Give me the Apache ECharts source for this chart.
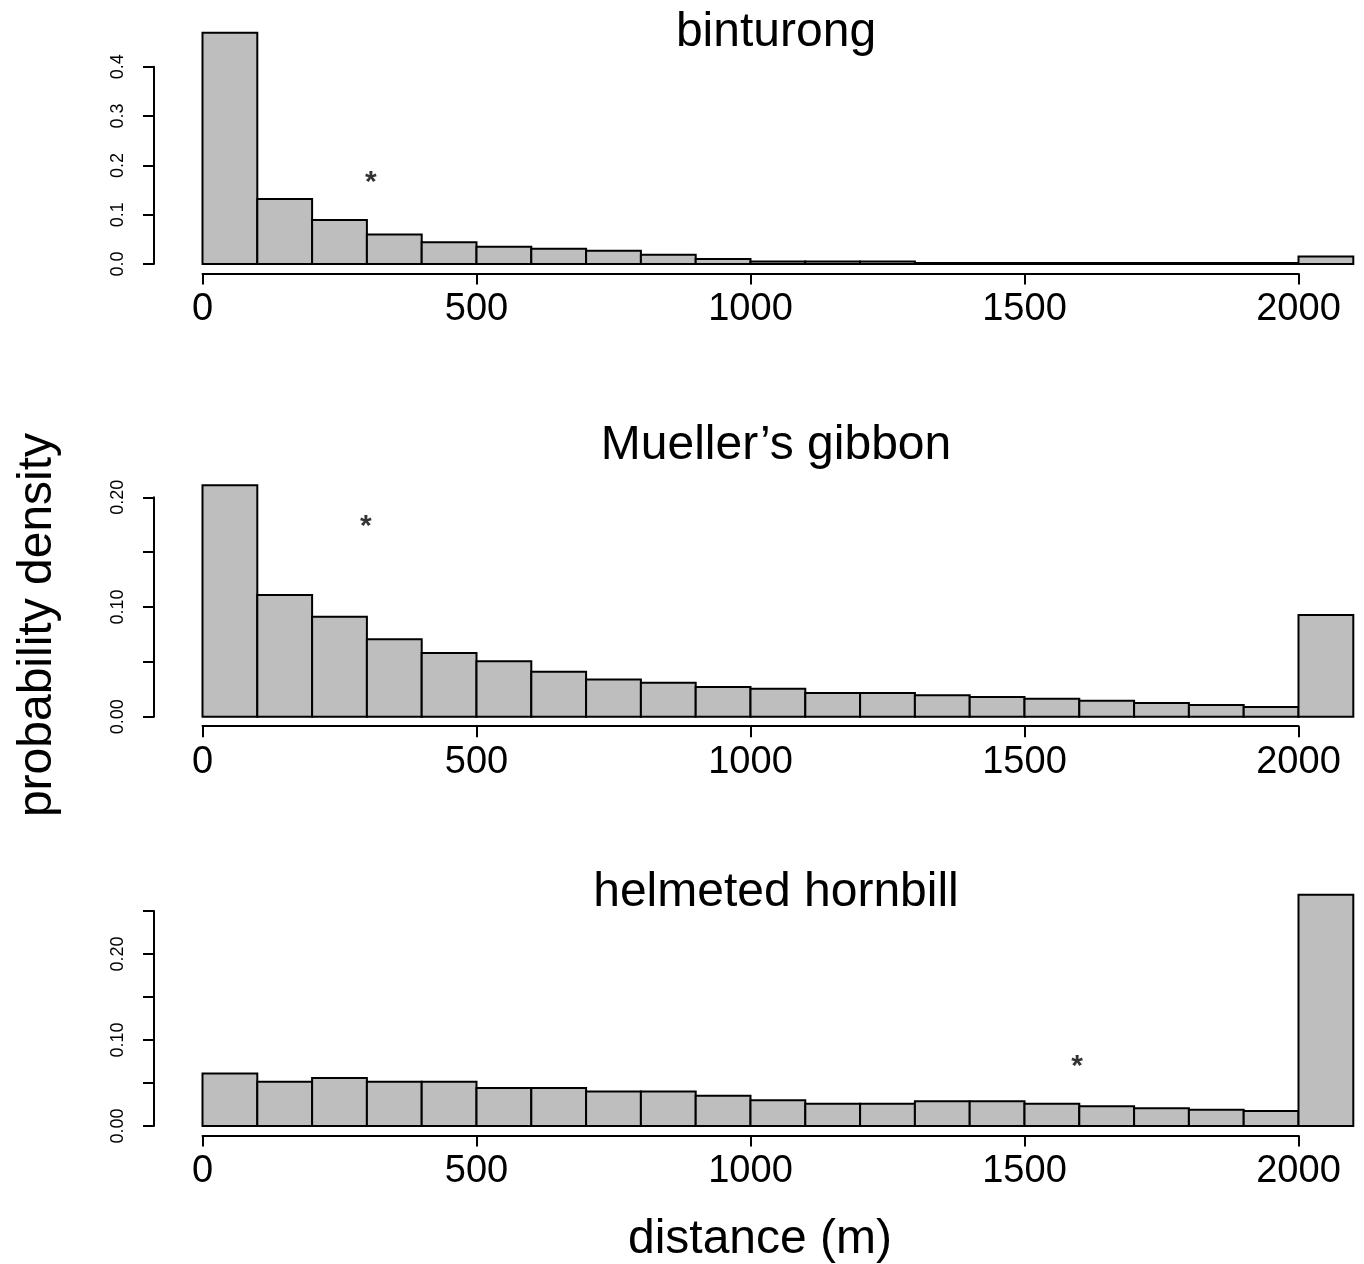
<!DOCTYPE html>
<html><head><meta charset="utf-8">
<script src="https://cdn.jsdelivr.net/npm/echarts@6/dist/echarts.min.js"></script>
<style>html,body{margin:0;padding:0;background:#fff}#c{width:1364px;height:1264px}</style>
</head><body><div id="c"></div>
<script>
// ---- data ----
const binStarts = [0,100,200,300,400,500,600,700,800,900,1000,1100,1200,1300,1400,1500,1600,1700,1800,1900,2000];
const binWidth = 100;
const binturong = [0.469,0.132,0.089,0.060,0.044,0.035,0.031,0.027,0.019,0.010,0.005,0.005,0.005,0.002,0.002,0.002,0.002,0.002,0.002,0.002,0.015];
const gibbon    = [0.211,0.111,0.091,0.0706,0.058,0.0505,0.041,0.034,0.031,0.027,0.0255,0.0216,0.0216,0.0195,0.018,0.0164,0.0146,0.0125,0.0107,0.0088,0.0927];
const hornbill  = [0.061,0.0515,0.0558,0.0515,0.0515,0.0442,0.0442,0.040,0.040,0.0352,0.030,0.026,0.026,0.0287,0.0287,0.026,0.0229,0.0206,0.019,0.0174,0.269];
const panelTitles = ['binturong','Mueller\u2019s gibbon','helmeted hornbill'];
const starX = [307, 298, 1596];
const starY = [0.174, 0.1775, 0.0744];
const xTickMin = 0, xTickMax = 2000, xTickStep = 500;
const yTickMax = [0.4, 0.20, 0.25];
const yTickStep = [0.1, 0.05, 0.05];
const yLabelStep = [0.1, 0.1, 0.1];
const yLabelDigits = [1, 2, 2];
const xLabel = 'distance (m)';
const yLabel = 'probability density';

// ---- layout ----
const FONT = '"Liberation Sans", Arial, sans-serif';
const x0px = 202.5, pxPerX = 0.548;
const layout = [
  {base: 264.0, ppu: 493,  yMax: 0.50, titleY: 33},
  {base: 716.7, ppu: 1097, yMax: 0.23, titleY: 446},
  {base: 1126,  ppu: 860,  yMax: 0.29, titleY: 893}
];
const series = [binturong, gibbon, hornbill];

const grid = [], xAxis = [], yAxis = [], seriesOpt = [], graphic = [];
layout.forEach((L, p) => {
  const gi = grid.length;
  // data grid
  grid.push({left: x0px, width: 2100 * pxPerX, top: L.base - L.yMax * L.ppu, height: L.yMax * L.ppu, outerBoundsMode: 'none'});
  xAxis.push({gridIndex: gi, type: 'value', min: 0, max: 2100, show: false});
  yAxis.push({gridIndex: gi, type: 'value', min: 0, max: L.yMax, show: false});
  // y-axis grid
  grid.push({left: 154, width: 1, top: L.base - yTickMax[p] * L.ppu, height: yTickMax[p] * L.ppu, outerBoundsMode: 'none'});
  xAxis.push({gridIndex: gi + 1, type: 'value', min: 0, max: 1, show: false});
  yAxis.push({gridIndex: gi + 1, type: 'value', min: 0, max: yTickMax[p], interval: yTickStep[p],
    axisLine: {show: true, lineStyle: {color: '#000', width: 2}},
    axisTick: {show: true, length: 11, lineStyle: {color: '#000', width: 2}},
    splitLine: {show: false},
    axisLabel: {rotate: 90, margin: 27, fontSize: 18, color: '#000', fontFamily: FONT,
      formatter: v => (Math.abs(Math.round(v / yLabelStep[p]) * yLabelStep[p] - v) < 1e-9) ? v.toFixed(yLabelDigits[p]) : ''}
  });
  // x-axis grid
  grid.push({left: x0px, width: (xTickMax - xTickMin) * pxPerX, top: L.base, height: 9.5, outerBoundsMode: 'none'});
  xAxis.push({gridIndex: gi + 2, type: 'value', min: xTickMin, max: xTickMax, interval: xTickStep,
    axisLine: {show: true, lineStyle: {color: '#000', width: 2}},
    axisTick: {show: true, length: 11, lineStyle: {color: '#000', width: 2}},
    splitLine: {show: false},
    axisLabel: {margin: 17, fontSize: 38, color: '#000', fontFamily: FONT, formatter: v => String(v)}
  });
  yAxis.push({gridIndex: gi + 2, type: 'value', min: 0, max: 1, show: false});

  seriesOpt.push({
    type: 'custom', xAxisIndex: gi, yAxisIndex: gi, clip: false,
    data: binStarts.map((s, i) => [s, s + binWidth, series[p][i]]),
    encode: {x: [0, 1], y: 2},
    renderItem: (params, api) => {
      const a = api.coord([api.value(0), api.value(2)]);
      const b = api.coord([api.value(1), 0]);
      return {type: 'rect', shape: {x: a[0], y: a[1], width: b[0] - a[0], height: b[1] - a[1]},
        style: {fill: '#bebebe', stroke: '#000', lineWidth: 2}};
    }
  });
  seriesOpt.push({
    type: 'scatter', xAxisIndex: gi, yAxisIndex: gi, symbolSize: 1,
    itemStyle: {color: 'rgba(0,0,0,0)'},
    data: [[starX[p], starY[p]]],
    label: {show: true, position: 'inside', formatter: '*', fontSize: 30, fontWeight: 'bold', color: '#000', fontFamily: FONT, offset: [0, 5]}
  });
  graphic.push({type: 'text', x: 776, y: L.titleY,
    style: {text: panelTitles[p], font: '48px ' + FONT, fill: '#000', textAlign: 'center', textVerticalAlign: 'middle'}});
});
graphic.push({type: 'text', x: 760, y: 1240,
  style: {text: xLabel, font: '48px ' + FONT, fill: '#000', textAlign: 'center', textVerticalAlign: 'middle'}});
graphic.push({type: 'text', x: 38, y: 625, rotation: Math.PI / 2,
  style: {text: yLabel, font: '48px ' + FONT, fill: '#000', textAlign: 'center', textVerticalAlign: 'middle'}});

const chart = echarts.init(document.getElementById('c'), null, {renderer: 'canvas'});
chart.setOption({animation: false, backgroundColor: '#fff', grid, xAxis, yAxis, series: seriesOpt, graphic});
</script>
</body></html>
